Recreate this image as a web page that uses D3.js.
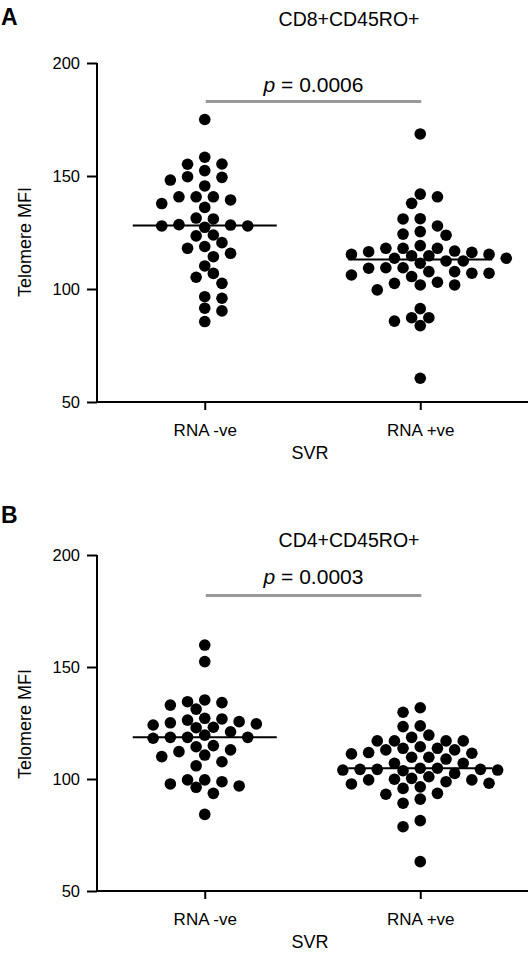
<!DOCTYPE html>
<html>
<head>
<meta charset="utf-8">
<script src="https://cdn.jsdelivr.net/npm/d3@7"></script>
<style>
  html, body { margin: 0; padding: 0; background: #fff; }
  svg { display: block; }
  text { font-family: "Liberation Sans", Arial, sans-serif; fill: #000; }
</style>
</head>
<body>
<svg id="chart" width="529" height="961"></svg>
<script>
// ---------------- data ----------------
const categories = ["RNA -ve", "RNA +ve"];
const yTicks = [50, 100, 150, 200];
const panelLetters = ["A", "B"];
const panelTitles = ["CD8+CD45RO+", "CD4+CD45RO+"];
const pValues = ["0.0006", "0.0003"];

// Panel A: CD8+CD45RO+ telomere MFI
const cd8Neg = [175, 158.3, 155.3, 155.2, 152.4, 149.7, 149.4, 148.2, 145.6,
  140.8, 140.8, 140.8, 139.4, 137.8, 136.1, 131.4, 131.0,
  128.5, 128.3, 127.9, 127.9, 127.3, 123.9, 123.5, 120.5, 118.8, 118.0,
  115.8, 114.3, 110.2, 106.9, 105.2, 102.5, 96.6, 95.9, 91.5, 90.3, 85.6];
const cd8Pos = [168.6, 142.0, 140.8, 137.9, 131.1, 131.0, 127.9, 125.4, 124.3, 123.8,
  119.2, 118.0, 118.0, 118.0,
  116.8, 116.5, 116.2, 115.3, 115.3, 114.7, 114.7,
  113.6, 113.6, 112.4, 112.4, 111.4,
  109.4, 109.4, 109.2, 107.7, 107.7, 107.0, 107.0, 106.2, 105.5,
  103.0, 102.5, 101.8, 101.8, 99.6,
  91.3, 87.3, 87.3, 85.8, 83.8, 60.5];

// Panel B: CD4+CD45RO+ telomere MFI
const cd4Neg = [159.8, 152.4, 135.3, 134.5, 134.1, 133.0, 131.2,
  127.1, 126.8, 126.3, 125.6, 125.1, 124.6, 124.1, 123.1, 122.9, 121.1,
  119.6, 118.6, 118.6, 118.6, 118.2, 114.9, 114.4, 113.0, 112.2, 110.7, 110.0,
  107.7, 105.9, 99.6, 98.8, 97.8, 96.9, 96.3, 93.6, 99.6, 84.2];
const cd4Pos = [131.8, 129.8, 123.7, 123.4, 119.6, 118.6,
  117.0, 117.0, 117.0, 117.0,
  114.4, 113.7, 113.7, 113.0, 113.0,
  111.8, 111.5, 111.2, 109.7, 109.7, 108.9, 107.0, 107.0,
  104.8, 104.8, 104.3, 104.3, 104.3, 104.0, 104.0, 103.7,
  102.5, 101.0,
  100.3, 99.9, 99.6, 99.6, 98.8, 98.1, 97.8,
  96.5, 95.8, 93.6, 93.2, 91.0, 89.2, 81.4, 78.7, 63.1];

const panelSeries = [[cd8Neg, cd8Pos], [cd4Neg, cd4Pos]];

// ---------------- layout ----------------
const svg = d3.select("#chart");
const layouts = [
  { top: 63, bottom: 402, letterY: 25, titleY: 26, pY: 92, barY: 101.5, yLabelY: 242 },
  { top: 555, bottom: 891, letterY: 523, titleY: 547, pY: 584, barY: 595.5, yLabelY: 724 }
];
const axisX = 97, axisRight = 528;
const R = 5.8, STEP = 8.6, MIN_D = 11.3, HALF_MED = 72;

function dodge(values, y) {
  const nodes = values.map((v, i) => ({ v, y: y(v), i }))
    .sort((a, b) => d3.descending(a.v, b.v));
  const placed = [];
  nodes.forEach((n, idx) => {
    const flip = idx % 2 === 0 ? 1 : -1;
    for (let k = 0; k < 400; k++) {
      const slot = k === 0 ? 0 : (k % 2 ? (k + 1) / 2 : -k / 2) * flip;
      const dx = slot * STEP;
      if (placed.every(p => (p.dx - dx) ** 2 + (p.y - n.y) ** 2 >= MIN_D * MIN_D)) {
        n.dx = dx; break;
      }
    }
    placed.push(n);
  });
  return nodes;
}

layouts.forEach((L, pi) => {
  const g = svg.append("g");
  const y = d3.scaleLinear().domain([50, 200]).range([L.bottom, L.top]);
  const x = d3.scalePoint().domain(categories).range([axisX, axisRight]).padding(0.5);

  // panel letter
  g.append("text").attr("x", 1).attr("y", L.letterY)
    .style("font-size", "23px").style("font-weight", "bold").text(panelLetters[pi]);
  // title
  g.append("text").attr("x", 349).attr("y", L.titleY).attr("text-anchor", "middle")
    .style("font-size", "19.5px").text(panelTitles[pi]);

  // y axis
  const yAxis = g.append("g").attr("transform", `translate(${axisX},0)`)
    .call(d3.axisLeft(y).tickValues(yTicks).tickSize(10).tickPadding(7).tickFormat(d3.format("d")));
  yAxis.select(".domain").attr("stroke", "#000").attr("stroke-width", 2)
    .attr("d", `M0,${L.top}V${L.bottom}`);
  yAxis.selectAll(".tick line").attr("stroke", "#000").attr("stroke-width", 2);
  yAxis.selectAll(".tick text").style("font-size", "16.5px").attr("fill", "#000")
    .style("font-family", "'Liberation Sans', Arial, sans-serif");

  // x axis
  const xAxis = g.append("g").attr("transform", `translate(0,${L.bottom})`)
    .call(d3.axisBottom(x).tickSize(8).tickPadding(14));
  xAxis.select(".domain").attr("stroke", "#000").attr("stroke-width", 2)
    .attr("d", `M${axisX - 1},0H${axisRight}`);
  xAxis.selectAll(".tick line").attr("stroke", "#000").attr("stroke-width", 2);
  xAxis.selectAll(".tick text").style("font-size", "17px").attr("fill", "#000")
    .style("font-family", "'Liberation Sans', Arial, sans-serif");

  // axis titles
  g.append("text").attr("x", 310).attr("y", L.bottom + 57).attr("text-anchor", "middle")
    .style("font-size", "18px").text("SVR");
  g.append("text").attr("transform", `translate(31,${L.yLabelY}) rotate(-90)`)
    .attr("text-anchor", "middle").style("font-size", "18px").text("Telomere MFI");

  // significance bar + p text
  g.append("line").attr("x1", x(categories[0]) + 1).attr("x2", x(categories[1]) + 1)
    .attr("y1", L.barY).attr("y2", L.barY).attr("stroke", "#999").attr("stroke-width", 3);
  const pt = g.append("text").attr("x", (x(categories[0]) + x(categories[1])) / 2 + 1)
    .attr("y", L.pY).attr("text-anchor", "middle").style("font-size", "21px");
  pt.append("tspan").style("font-style", "italic").text("p");
  pt.append("tspan").text(" = " + pValues[pi]);

  // dots and medians
  panelSeries[pi].forEach((vals, ci) => {
    const cx = x(categories[ci]);
    const nodes = dodge(vals, y);
    g.append("g").selectAll("circle").data(nodes).join("circle")
      .attr("cx", d => cx + d.dx).attr("cy", d => d.y).attr("r", R).attr("fill", "#000");
    const med = d3.median(vals);
    g.append("line").attr("x1", cx - HALF_MED).attr("x2", cx + HALF_MED)
      .attr("y1", y(med)).attr("y2", y(med)).attr("stroke", "#000").attr("stroke-width", 2);
  });
});
</script>
</body>
</html>
